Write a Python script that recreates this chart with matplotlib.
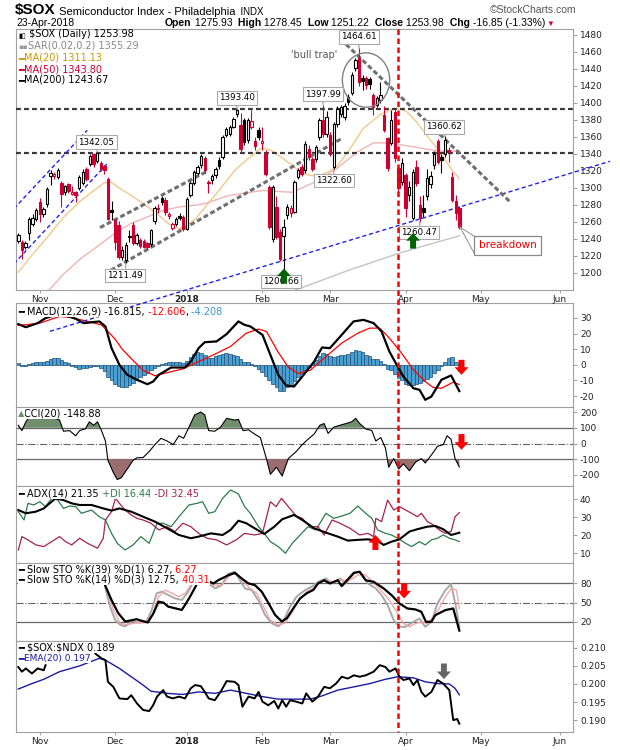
import numpy as np
import pandas as pd
import matplotlib
matplotlib.use("Agg")
import matplotlib.pyplot as plt
import matplotlib.transforms as mtrans
from matplotlib.patches import Ellipse
from matplotlib.text import Annotation

# ---------------- data (trading-day index 0 = 24-Oct-2017) ----------------
opens = [1237.5, 1236.5, 1230.6, 1247.1, 1258, 1263.9, 1283.6, 1269.8, 1280.8, 1313.8,
         1313.8, 1313, 1305.9, 1295.3, 1304.3, 1293, 1295.3, 1300.4, 1305.9, 1322.8,
         1328.7, 1339.6, 1331.8, 1329.4, 1325.5, 1311, 1273.8, 1262, 1256.1, 1218.9,
         1214.9, 1242.5, 1256.1, 1235.3, 1238.5, 1237.7, 1235.3, 1234.5, 1261.2, 1276,
         1288.7, 1286.3, 1266.7, 1253.4, 1258, 1267.1, 1266.3, 1252.2, 1291.4, 1305.9,
         1317.5, 1327, 1335.8, 1306.5, 1309.2, 1315, 1333.4, 1336.5, 1362, 1363.2,
         1371.8, 1386.7, 1373.7, 1379.6, 1356, 1371.8, 1355.3, 1368.6, 1352.6, 1340.5,
         1301, 1240.5, 1277.7, 1248.3, 1244, 1268, 1270, 1272, 1313, 1324.8,
         1321, 1346.3, 1334.6, 1334, 1360, 1379.7, 1364, 1362, 1324.8, 1375.8,
         1387.5, 1383.6, 1407, 1411.4, 1441.6, 1452.6, 1429.9, 1429, 1428.3, 1409.5,
         1397.6, 1403.6, 1386, 1358.5, 1352.6, 1389.9, 1323.2, 1307.5, 1315.4, 1291.8,
         1264.4, 1325.2, 1280, 1276, 1290, 1305, 1326.7, 1355, 1336, 1340.5,
         1345.2, 1313, 1285, 1275.93]
highs = [1247, 1239, 1238, 1266, 1269, 1277, 1288.7, 1278, 1301, 1320.8,
         1319, 1323, 1308, 1304, 1306, 1302, 1297, 1315, 1322, 1325,
         1340, 1341, 1342.05, 1332, 1327, 1313, 1285, 1264, 1261, 1232,
         1237, 1250, 1260, 1247, 1241, 1240, 1237, 1252, 1279, 1281,
         1290, 1289, 1272, 1260, 1266, 1270, 1268, 1289, 1308, 1321,
         1327, 1340, 1338, 1309, 1316, 1325, 1336, 1362, 1372, 1374,
         1384, 1393.4, 1388, 1382, 1382, 1392, 1360, 1372, 1372, 1345,
         1304, 1303, 1290, 1252, 1264, 1281, 1280, 1309, 1324, 1328,
         1355, 1350, 1337, 1350, 1382, 1397.99, 1390, 1366, 1378, 1396,
         1398, 1400, 1410, 1436, 1453, 1464.61, 1433, 1432, 1431, 1412,
         1408, 1425, 1396, 1360, 1392, 1393, 1326, 1335, 1318, 1308,
         1322, 1333, 1290, 1292, 1322, 1320, 1344, 1358, 1340, 1360.62,
         1348, 1319, 1292, 1278.45]
lows = [1235, 1216.9, 1228, 1238.5, 1255, 1261, 1260, 1266, 1278, 1303.2,
        1311, 1310, 1277.7, 1292, 1294, 1292, 1283.6, 1298, 1304, 1308,
        1326, 1325, 1329, 1320, 1317, 1262, 1262, 1226.7, 1216, 1215,
        1211.49, 1236, 1233, 1233, 1229, 1229, 1228, 1232, 1258, 1270,
        1280, 1268, 1264, 1251, 1255, 1262, 1249, 1250, 1289, 1303,
        1315, 1324, 1318, 1294, 1305, 1312, 1322, 1334, 1360, 1361,
        1370, 1384, 1342, 1350, 1353, 1369, 1345, 1356, 1345, 1314,
        1252, 1237, 1240, 1214, 1200.66, 1263, 1266, 1270, 1310, 1314,
        1318, 1333, 1320, 1330, 1357, 1360, 1360, 1338, 1322.6, 1372,
        1384, 1380, 1398, 1409, 1438, 1420, 1415, 1416, 1416, 1386,
        1395, 1400, 1366, 1320, 1350, 1330, 1290, 1304, 1266, 1285,
        1262, 1302, 1260.47, 1266, 1286, 1300, 1322, 1328, 1318, 1337,
        1330, 1284, 1262, 1251.22]
closes = [1244.3, 1226.7, 1235.7, 1263.9, 1265.1, 1274.5, 1269.1, 1275.7, 1299.2, 1317.7,
          1316.9, 1320.8, 1293.4, 1302, 1296.5, 1295.5, 1291.4, 1313, 1318.9, 1311,
          1337.3, 1327.9, 1341.2, 1322.8, 1320.8, 1263.9, 1271.4, 1236.5, 1218.9, 1227.5,
          1232.6, 1243.5, 1235.3, 1244.3, 1231.4, 1230.6, 1230, 1250.2, 1276.9, 1275.7,
          1284, 1271.8, 1269.8, 1258, 1263.9, 1265.1, 1252.2, 1287.5, 1305.9, 1318.9,
          1324.7, 1338, 1320.9, 1305.5, 1313.8, 1322.8, 1325.6, 1360.1, 1369.9, 1371.8,
          1381.6, 1391.4, 1346, 1354, 1379.6, 1378.5, 1349, 1360, 1355.3, 1317,
          1254, 1301.3, 1242.4, 1217, 1254, 1278, 1276, 1307, 1321, 1317,
          1352, 1336.5, 1322.8, 1348, 1379.7, 1364, 1383.6, 1340.5, 1375.8, 1393.4,
          1395.4, 1397, 1401, 1433, 1450.6, 1425.2, 1426, 1421.2, 1422.5, 1395.7,
          1405.6, 1409.5, 1368.3, 1323.2, 1380.1, 1335, 1299.7, 1329.1, 1276.1, 1301.6,
          1319.3, 1305.5, 1264.4, 1272.2, 1312, 1314, 1340.4, 1331, 1333, 1356.9,
          1342, 1285.5, 1270.83, 1253.98]

ma20_x = [0, 3.4, 8.1, 12.7, 17.4, 21.1, 23.9, 25.8, 28.5, 32.3, 36, 39.7, 42.5, 44.8, 47.2, 49.5,
          53, 56.7, 60.4, 64.2, 67.9, 70.7, 74.4, 78.1, 80.9, 83.7, 86.5, 89, 92.5, 96.2, 100.9,
          103.7, 105.5, 108.3, 111, 113.9, 116.7, 119, 121.4, 123]
ma20_v = [1201, 1219, 1242, 1266, 1285, 1297, 1306, 1307, 1299, 1289, 1278, 1266, 1256, 1252, 1256, 1264,
          1282, 1301, 1321, 1335, 1347, 1344, 1333, 1321, 1315, 1314, 1319, 1326, 1346, 1370, 1386,
          1392, 1394, 1390, 1378, 1362, 1347, 1333, 1319, 1311.13]
ma50_x = [8.6, 12.7, 17.4, 22, 26.7, 31.3, 36, 40.6, 45.3, 49.9, 52.3, 58.6, 67.9, 76.3, 82.8,
          88.6, 94.4, 99, 103.7, 109.3, 114.9, 118.6, 123]
ma50_v = [1180, 1199, 1217, 1231, 1246, 1258, 1266, 1274, 1278, 1280, 1282, 1291, 1297, 1295, 1307,
          1322, 1342, 1353, 1353, 1349, 1345, 1343, 1343.8]
ma200_x = [76, 85, 92, 99, 106, 114, 123]
ma200_v = [1178, 1192, 1203, 1213, 1223, 1233, 1243.67]

macd_x = [0, 2.1, 5.4, 7.6, 9.5, 13.2, 16, 18.2, 22.6, 24.3, 26, 28.2, 30.4, 33.1, 36, 37.6, 39.2,
          42.6, 46.5, 48.1, 50.3, 52, 55.3, 58.1, 61.4, 63.1, 64.7, 68.1, 70.3, 72.5, 74.7, 76.9,
          79.2, 82.5, 84.7, 86.9, 90.2, 93.5, 96.3, 99.1, 101.3, 103.5, 105.8, 107.4, 110.2,
          111.9, 113.5, 115.2, 118, 120.7, 123]
macd_v = [26.1, 24.1, 26.7, 29.9, 31.3, 31.6, 29.5, 26.7, 27.8, 24.6, 10.7, 0, -6.4, -9.6, -12.4,
          -10.7, -6.4, -1.7, -1.7, 2.1, 10.7, 14.5, 15, 19.7, 27.8, 25.6, 24.6, 19.2, 6.4, -6.4,
          -13.2, -13.9, -7.5, 2.1, 11.1, 10.7, 19.2, 27.8, 28.8, 26.7, 21.4, 8.5, -1.1, -7.5, -15,
          -16, -22.4, -20.3, -9.6, -6.8, -16.815]
sig_x = [0, 6, 11.5, 14.9, 19.3, 23.2, 27, 29, 31.5, 34.8, 38.1, 41.5, 45.9, 50.3, 54.8, 59.2,
         63.6, 67, 69.2, 72.5, 75.3, 78, 81.4, 85.8, 90.2, 94.7, 98, 100.8, 103.5, 106.9, 110.2,
         113.5, 115.7, 118, 121.3, 123]
sig_v = [25.2, 26.7, 31, 30.3, 27.8, 25.6, 16.5, 10, 4, -3.5, -7, -5, -2.6, 2.1, 6.8, 11.8,
         20.3, 22.9, 21.4, 8, -1.5, -5.5, -3.5, 5.3, 13.9, 20.3, 23.5, 23.5, 17.1, 7.5, -3.2,
         -10.7, -14.5, -15, -11.1, -12.606]
hist_v = [1.0, -0.5, -0.5, 0.5, 1.0, 1.5, 1.5, 2.0, 2.5, 3.5,
          4.5, 4.5, 3.0, 2.0, 1.0, -0.5, -1.5, -2.5, -2.0, -2.0,
          -1.5, -1.0, -1.0, -2.0, -4.0, -7.5, -10.0, -12.0, -13.5, -14.5,
          -14.5, -13.0, -11.5, -9.5, -8.0, -6.5, -5.0, -3.5, -2.0, -1.0,
          0.5, 1.0, 1.5, 1.5, 1.5, 1.5, 1.0, 2.5, 5.0, 7.0,
          8.0, 7.5, 6.0, 4.5, 4.5, 5.5, 6.0, 7.0, 7.5, 7.0,
          6.5, 5.5, 3.5, 2.0, 1.5, 0.5, -1.0, -2.5, -4.5, -7.0,
          -10.0, -12.0, -14.0, -16.5, -17.0, -14.5, -13.0, -10.5, -8.0, -6.0,
          -3.5, -1.5, 0.5, 3.0, 5.5, 7.5, 7.0, 5.5, 5.0, 5.5,
          6.0, 6.5, 7.0, 8.0, 9.5, 9.0, 8.0, 6.5, 5.5, 4.0,
          3.5, 2.5, 0.5, -2.5, -3.5, -6.0, -8.5, -10.0, -12.0, -13.0,
          -13.0, -12.5, -11.5, -10.5, -9.0, -7.5, -5.5, -3.0, -0.5, 2.0,
          4.5, 5.0, 2.0, -4.2]

cci_x = [0, 1, 2.1, 3.2, 4.9, 7.1, 9.3, 11.5, 12.6, 14.3, 16, 17.1, 18.7, 19.8, 21, 22.1, 23.2,
         24.3, 25, 26.5, 27.6, 28.7, 30.4, 32, 33.1, 34.8, 36.5, 38.1, 39.8, 41.5, 43.2, 44.8,
         46.1, 47.6, 49.2, 50.9, 52, 53.1, 54.8, 56.4, 58.1, 60.3, 61.4, 62.7, 64.2, 65.9, 67.5,
         69.2, 70.3, 72, 73.6, 75.3, 77.5, 79.2, 80.8, 82.5, 84.1, 85.3, 86.4, 88, 89.7, 91.4,
         93, 94.1, 95.2, 96.9, 98.6, 99.7, 101.1, 102.4, 103.3, 104.7, 106.1, 107.4, 109.1,
         110.8, 112.4, 113.5, 115.2, 116.9, 118.5, 119.6, 120.7, 121.8, 123]
cci_v = [116, 82, 138, 171, 160, 167, 171, 149, 78, 82, 49, 82, 93, 138, 116, 138, 82, 16, -107,
         -184, -229, -218, -162, -107, -91, -89, -51, -7, 33, 16, -7, 49, 33, 104, 182, 200, 182,
         82, 78, 104, 160, 149, 153, 82, 87, 60, 38, -96, -196, -151, -207, -96, -51, -7, 27, 60,
         116, 127, 64, 104, 116, 127, 138, 160, 127, 93, 82, 16, 38, -29, -151, -96, -162, -129,
         -173, -118, -96, -124, -73, -18, -7, 49, 27, -96, -148.88]

adx_x = [0, 2.1, 4.9, 7.1, 10.4, 12.6, 14.9, 17.1, 20.4, 23.7, 26, 28.2, 31.5, 34.8, 38.1, 41.5,
         44.8, 48.1, 50.3, 53.7, 57, 59.2, 61.4, 63.6, 65.9, 68.6, 71.4, 73.6, 76.9, 79.2, 82.5,
         85.8, 89.1, 91.9, 94.7, 97.5, 100.2, 101.9, 104.1, 106.3, 109.1, 111.3, 114.1, 116.3,
         118.5, 120.7, 123]
adx_v = [33.9, 32.1, 33, 34.8, 40.4, 39.4, 37.6, 36.7, 36.7, 34.8, 33.6, 34.8, 33, 30.2, 27.5,
         23.8, 20.1, 18.3, 19.2, 21, 20.1, 22.9, 28, 26.6, 23.8, 20.7, 24.7, 28.8, 31.2, 28.4,
         23.8, 21.4, 19.2, 17, 17.4, 17.7, 16.8, 14.6, 16.4, 17.7, 22, 23.3, 24.7, 25.1, 23.3,
         20.1, 21.35]
pdi_x = [0, 1.6, 2.7, 4.3, 6, 7.6, 9.3, 11, 12.6, 14.3, 16, 17.6, 20.4, 22.6, 24.3, 26, 27.6,
         29.8, 32, 34.2, 36.5, 38.7, 40.4, 42.6, 44.8, 47.6, 49.8, 51.4, 53.1, 54.8, 57, 59.2,
         61.4, 63.1, 64.7, 67, 68.6, 70.3, 72.5, 74.5, 76.4, 78.6, 80.8, 83, 85.8, 88, 90.2,
         92.5, 94.7, 96.9, 98.6, 100.2, 102.4, 104.1, 105.8, 108, 109.7, 111.9, 113.5, 115.2,
         116.9, 118.5, 120.2, 121.8, 123]
pdi_v = [33, 28.4, 37.6, 36.7, 38.5, 35.8, 40.4, 39.4, 34.8, 36.1, 35.8, 32.1, 33.9, 30.2, 28.4,
         21, 15.5, 11.8, 14.6, 19.2, 15.5, 26.6, 26.6, 24.7, 30.2, 36.7, 37.6, 38.5, 32.1, 33,
         40.4, 45, 42.8, 35.8, 32.1, 24.7, 21, 16.4, 13.7, 10, 15.5, 20.1, 24.7, 22.9, 32.1,
         29.3, 30.6, 32.1, 36.1, 32.1, 29.3, 22.9, 21, 20.1, 18.3, 15.5, 13.7, 16.4, 14.6, 17.4,
         18.3, 20.1, 18.3, 17.4, 16.44]
mdi_x = [0, 1, 2.7, 4.9, 7.1, 9.3, 11.5, 13.2, 14.9, 17.1, 19.3, 22.1, 23.7, 24.3, 26, 27.1,
         28.2, 29.8, 31.5, 33.1, 34.8, 37, 39.2, 41.5, 43.7, 45.9, 48.1, 50.3, 52.6, 55.3, 58.1,
         60.8, 63.1, 65.9, 68.1, 70.3, 71.9, 73.4, 75.3, 77.5, 79.2, 81.4, 83.6, 85.3, 87.5,
         89.7, 92.5, 95.2, 97.5, 99.1, 99.7, 101.3, 103, 104.7, 106.3, 108, 109.7, 111.3, 112.4,
         114.1, 115.8, 117.4, 119.1, 120.7, 121.8, 123]
mdi_v = [11.8, 19.2, 17.4, 14.6, 13.7, 16.4, 19.2, 16.4, 14.6, 18.3, 15.5, 12.8, 18.3, 28.4, 33,
         40.4, 37.6, 33.9, 31.2, 29.3, 28.4, 26.6, 22.9, 24.7, 22, 26.6, 24.7, 21, 18.3, 17.4,
         14.6, 17.4, 21, 20.1, 21, 38.5, 35.8, 40.4, 35.8, 30.6, 29.3, 24.7, 24.7, 20.1, 28.4,
         26.6, 23.8, 20.1, 21, 19.2, 29.3, 27.5, 39.4, 33.9, 35.8, 33.9, 32.1, 30.2, 32.1, 27.5,
         25.6, 22.9, 21, 22, 30.2, 32.45]

k39_x = [24.2, 26, 27.9, 29.8, 31.2, 33, 34.4, 36.1, 37.7, 39.1, 40.5, 41.8, 43.7, 45.6, 46.5,
         47.9, 49.8, 50.7, 52.5, 54.4, 55.8, 58.6, 60.4, 62.3, 64.2, 66, 67.9, 69.8, 71.6, 73.5,
         74.9, 76.7, 78.6, 80.4, 82.3, 83.6, 85.3, 86.9, 89.1, 90.2, 93.6, 95.2, 96.9, 99.1,
         101.9, 104.1, 106.3, 108.5, 110.8, 112.4, 113.7, 115.2, 116.3, 119.1, 121.3, 123]
k39_v = [77.4, 54, 33.4, 20.5, 22, 24.1, 21.6, 19, 33.4, 51.6, 50, 43.8, 41.2, 38.6, 46.4, 59.3,
         79, 90.3, 85.2, 80, 85.2, 92.9, 96.6, 87.8, 80, 77.4, 67.1, 49, 30.9, 20.5, 25.7, 41.2,
         56.7, 64.5, 70, 80, 85, 80, 85, 75.8, 96.7, 98.3, 85, 82.6, 72.2, 61.7, 48.7, 40.9,
         39.3, 35.7, 20, 20, 30.4, 38.3, 40.9, 6.27]
k14_x = [24.2, 25.6, 27, 28.4, 29.8, 31.6, 33.5, 35.8, 37.2, 38.6, 40, 41.8, 43.7, 45.6, 47.4,
         49.3, 51.1, 53, 54.9, 56.7, 58.6, 60.4, 61.8, 63.2, 65.1, 66.9, 68.8, 70.6, 72.5, 73.9,
         75.8, 77.6, 80, 81.8, 83.6, 85.8, 87.5, 89.7, 91.4, 93.6, 95.2, 97.5, 99.7, 101.3, 103,
         104.7, 106.3, 108, 110.2, 111.9, 113.5, 115.2, 116.9, 119.1, 120.7, 122, 123]
k14_v = [75, 43.8, 23, 15.3, 12.8, 20.5, 19, 20.5, 38.6, 64.5, 67.1, 62, 56.7, 54.1, 67.1, 87.8,
         92.9, 80, 72.2, 77.4, 95.5, 98.1, 85.2, 72.2, 69.7, 54.1, 30.9, 17.9, 12.8, 20.5, 43.8,
         59.3, 69.7, 74.8, 82.6, 87.8, 80, 87.8, 80, 95.7, 98.3, 80, 72.2, 61.7, 46.1, 22.6,
         12.2, 12.2, 20, 25.2, 12.2, 20, 48.7, 69.6, 79, 45, 12.75]
d3_x = [24.7, 26.5, 28.4, 30.2, 32.5, 35.3, 37.2, 39.1, 41, 42.9, 44.7, 46.5, 48.4, 50.2, 52.5,
        54.4, 56.7, 59.1, 60.9, 62.8, 64.6, 66.5, 68.4, 70.2, 72.5, 74.4, 76.2, 78.1, 80.4, 82.3,
        83.6, 85.8, 88, 90.2, 92.5, 94.7, 96.3, 98, 100.2, 101.9, 103.5, 105.8, 107.4, 109.1,
        110.8, 112.4, 114.1, 115.7, 117.4, 119.1, 120.7, 122.2, 123]
d3_v = [72, 38.6, 18, 15.3, 18, 19, 28, 59.3, 69.7, 64.5, 59.3, 64.5, 80, 90.3, 87.8, 77.4, 77.4,
        92.9, 95.5, 82.6, 72.2, 64.5, 43.8, 23, 15.3, 18, 33.4, 51.6, 67.1, 72.2, 80, 85.2, 82.6,
        85.2, 85.2, 93, 94.6, 87.8, 74.8, 64.3, 53.9, 33, 17.4, 12.2, 17.4, 20, 17.4, 27.8, 40.9,
        59.1, 72.2, 69.6, 40.31]

ratio_x = [0, 1, 2.1, 3.8, 5.4, 7.1, 7.6, np.nan, 21.5, 23.2, 24.3, 25, 26.5, 28.2, 30.4, 31.5,
           33.1, 34.8, 36.5, 37.6, 38.7, 40.4, 41.5, 43.1, 44.8, 46.5, 48.1, 49.3, 50.9, 52, 53.1,
           54.8, 56.4, 58.1, 60.3, 61.4, 62.5, 64.2, 65.9, 67, 68.1, 69.7, 71.4, 72.5, 73.6, 74.7,
           75.8, 77.5, 79.2, 80.3, 82, 83.6, 85.3, 86.9, 88.6, 90.2, 91.9, 93.6, 95.2, 96.9, 99.1,
           100.8, 102.4, 103.5, 105.2, 106.3, 107.4, 109.1, 110.2, 111.3, 112.4, 113.5, 115.2,
           116.9, 118.5, 120.2, 121.3, 122.4, 123]
ratio_v = [0.2047, 0.2034, 0.2043, 0.2029, 0.2043, 0.2038, 0.2052, np.nan, 0.2084, 0.2071,
           0.2066, 0.2006, 0.1992, 0.196, 0.1958, 0.1969, 0.1946, 0.1928, 0.1925, 0.1941,
           0.1965, 0.1983, 0.1965, 0.196, 0.1965, 0.196, 0.1988, 0.1997, 0.1994, 0.1978,
           0.196, 0.1955, 0.1978, 0.2008, 0.2006, 0.1997, 0.1937, 0.1965, 0.196, 0.1978,
           0.1951, 0.1941, 0.1953, 0.1932, 0.1955, 0.1937, 0.1955, 0.1951, 0.1946, 0.1974,
           0.1951, 0.1965, 0.1992, 0.1988, 0.2001, 0.202, 0.2015, 0.2024, 0.202, 0.2024,
           0.2034, 0.2052, 0.2047, 0.2034, 0.2043, 0.202, 0.2011, 0.2015, 0.1997, 0.2011,
           0.1978, 0.1965, 0.1978, 0.2011, 0.2001, 0.1983, 0.19, 0.1903, 0.189]
ema_x = [0, 3.8, 7.1, 11.5, 17.1, 22.6, 24.3, 28.2, 31.5, 34.8, 37, 41.5, 45.9, 50.3, 54.8, 59.2,
         63.6, 68.1, 72.5, 76.9, 81.4, 84.7, 89.1, 93.6, 98, 102.4, 105.8, 110.2, 113.5, 116.9,
         120.2, 121.8, 123]
ema_v = [0.1986, 0.2001, 0.2013, 0.2034, 0.205, 0.2071, 0.2066, 0.2043, 0.202, 0.1997, 0.198,
         0.1974, 0.1971, 0.1978, 0.1974, 0.1983, 0.1974, 0.1965, 0.1958, 0.1958, 0.1958, 0.1967,
         0.1983, 0.1992, 0.2001, 0.2013, 0.202, 0.2017, 0.2006, 0.2001, 0.2, 0.1988, 0.197]

# annotations (data coordinates: trading-day index, value)
h_levels = [1392.5, 1341]
blue_lines = [[(-1.2, 1275.8), (19.2, 1367.9)], [(-1.2, 1211), (24.8, 1328.7)]]
blue_long = [(8.84, 1131.4), (165, 1331.4)]
gray_lines = [[(22.8, 1253.4), (52.3, 1318.8)], [(25.8, 1203.2), (90.2, 1358.1)],
              [(91.4, 1469), (137.2, 1283.5)]]
price_labels = [("1342.05", (22, 1342.05), (21.8, 1354)), ("1211.49", (30, 1211.49), (29.8, 1197.3)),
                ("1393.40", (61, 1393.4), (61, 1406)), ("1397.99", (85, 1397.99), (84.9, 1410.5)),
                ("1322.60", (88, 1322.6), (88, 1308.7)), ("1464.61", (95, 1464.61), (95, 1477.6)),
                ("1360.62", (119, 1360.62), (118.7, 1371.8)), ("1260.47", (112, 1260.47), (111.8, 1247.5)),
                ("1200.66", (74, 1200.66), (73.3, 1190))]
red_vline = 106
circle = (96.98, 1427, 13.2, 64)

# ---------------- figure ----------------
plt.rcParams['font.family'] = ['DejaVu Sans']
plt.rcParams['axes.unicode_minus'] = False
W, H = 620, 750
fig = plt.figure(figsize=(6.2, 7.5), dpi=100)
RED = '#cc0033'
GRID = '#a0a0a0'


def rect(top, bottom, left=16, right=573):
    return [left / W, 1 - bottom / H, (right - left) / W, (bottom - top) / H]


ax_p = fig.add_axes(rect(29, 290))
ax_m = fig.add_axes(rect(303, 407))
ax_c = fig.add_axes(rect(407, 486))
ax_a = fig.add_axes(rect(486, 563))
ax_s = fig.add_axes(rect(563, 641))
ax_r = fig.add_axes(rect(641, 732))
ax_p.set_zorder(3)
axes = [ax_p, ax_m, ax_c, ax_a, ax_s, ax_r]

holidays = pd.to_datetime(['2017-11-23', '2017-12-25', '2018-01-01', '2018-01-15',
                           '2018-02-19', '2018-03-30', '2018-05-28'])
days = pd.bdate_range('2017-10-24', '2018-06-15')
days = days[~days.isin(holidays)]
starts = [i for i in range(1, len(days)) if days[i].month != days[i - 1].month]
mlabels = [str(days[i].year) if days[i].month == 1 else days[i].strftime('%b') for i in starts]

for ax in axes:
    ax.set_xlim(-0.64, 154.7)
    for s in ax.spines.values():
        s.set_color(GRID)
        s.set_linewidth(0.8)
    ax.yaxis.tick_right()
    ax.tick_params(axis='y', labelsize=6.5, length=3, color=GRID, pad=2, labelcolor='#222222')
    ax.set_xticks(starts)
    ax.tick_params(axis='x', length=2, color=GRID, labelbottom=False, labelsize=6.5,
                   pad=1.5, labelcolor='#222222')
for ax in (ax_p, ax_r):
    ax.tick_params(axis='x', labelbottom=True)
    ax.set_xticklabels(mlabels)
    for t in ax.get_xticklabels():
        if t.get_text() == '2018':
            t.set_fontweight('bold')

# ---- price panel ----
o, hi, lo, c = map(np.array, (opens, highs, lows, closes))
n = len(c)
x = np.arange(n)
prev = np.r_[o[0], c[:-1]]
col = np.where(c >= prev, 'black', RED)
face = np.where(c >= o, 'white', col)
ax_p.vlines(x, lo, hi, colors=col, lw=0.8, zorder=4)
ax_p.bar(x, np.maximum(np.abs(c - o), 0.8), bottom=np.minimum(o, c), width=0.68,
         color=face, edgecolor=col, linewidth=0.8, zorder=5)
ax_p.plot(ma20_x, ma20_v, color='#f2c98a', lw=1.0, zorder=2)
ax_p.plot(ma50_x, ma50_v, color='#f2b4b4', lw=1.0, zorder=2)
ax_p.plot(ma200_x, ma200_v, color='#c4c4c4', lw=1.0, zorder=2)
for lvl in h_levels:
    ax_p.axhline(lvl, color='#3a3a3a', lw=1.6, ls=(0, (2.2, 1.4)), zorder=3)
for seg in blue_lines:
    ax_p.plot(*zip(*seg), color='#2222ee', lw=1.0, ls=(0, (3, 2)), zorder=3)
ax_p.plot(*zip(*blue_long), color='#2222ee', lw=1.0, ls=(0, (3, 2)), zorder=3, clip_on=False)
for seg in gray_lines:
    ax_p.plot(*zip(*seg), color='#707070', lw=2.2, ls=(0, (1.6, 0.9)), zorder=3)
ax_p.add_patch(Ellipse(circle[:2], circle[2], circle[3], fill=False, ec='#808080', lw=1.0, zorder=6))
ax_p.set_ylim(1180, 1487)
ax_p.set_yticks(np.arange(1200, 1481, 20))

for txt, pt, tp in price_labels:
    ax_p.annotate(txt, xy=pt, xytext=tp, ha='center', va='center', fontsize=6.3, zorder=7,
                  bbox=dict(boxstyle='square,pad=0.25', fc='white', ec='#aaaaaa', lw=0.8),
                  arrowprops=dict(arrowstyle='-', color='#999999', lw=0.8, shrinkA=0, shrinkB=0))
ax_p.text(82.5, 1456, "'bull trap'", fontsize=7, color='#555555', ha='center', va='center', zorder=7)
ax_p.text(136.5, 1232.6, "breakdown", fontsize=7.5, color='#ee0000', ha='center', va='center', zorder=7,
          bbox=dict(boxstyle='square,pad=0.45', fc='white', ec='#888888', lw=0.9))
for yy in (1243, 1222):
    ax_p.plot([123.2, 127.3], [1254, yy], color='#999999', lw=0.8, zorder=6)


def block_arrow(ax, xx, y_tail, y_tip, color):
    ax.annotate('', xy=(xx, y_tip), xytext=(xx, y_tail), annotation_clip=False, zorder=8,
                arrowprops=dict(width=4.3, headwidth=10, headlength=5.5, fc=color, ec=color, lw=0))


block_arrow(ax_p, 74.1, 1187.4, 1205.3, '#006400')
block_arrow(ax_p, 110.1, 1228.7, 1247, '#006400')

vtrans = mtrans.blended_transform_factory(ax_p.transData, fig.transFigure)
ax_p.plot([red_vline, red_vline], [ax_p.get_position().y1, ax_r.get_position().y0], transform=vtrans,
          color='#ff0000', lw=1.8, ls=(0, (2.2, 1.4)), clip_on=False, zorder=9)

# ---- MACD ----
ax_m.bar(x, hist_v, width=1.0, color='#4aa0d0', edgecolor='#1d4f78', linewidth=0.5, zorder=2)
ax_m.plot(sig_x, sig_v, color='#ff0000', lw=0.9, zorder=3)
ax_m.plot(macd_x, macd_v, color='black', lw=1.6, zorder=4)
ax_m.set_ylim(-27, 39.6)
ax_m.set_yticks([-20, -10, 0, 10, 20, 30])
block_arrow(ax_m, 123.6, 3.2, -6.4, '#ff0000')

# ---- CCI ----
cx, cv = np.array(cci_x), np.array(cci_v)
ax_c.fill_between(cx, cv, 100, where=cv >= 100, interpolate=True, color='#6f8f6f', lw=0, zorder=2)
ax_c.fill_between(cx, cv, -100, where=cv <= -100, interpolate=True, color='#9a6e6e', lw=0, zorder=2)
ax_c.axhline(100, color='#666666', lw=0.9, zorder=1)
ax_c.axhline(-100, color='#666666', lw=0.9, zorder=1)
ax_c.axhline(0, color='#666666', lw=0.8, ls='-.', zorder=1)
ax_c.plot(cx, cv, color='black', lw=0.8, zorder=3)
ax_c.set_ylim(-270, 232)
ax_c.set_yticks([-200, -100, 0, 100, 200])
block_arrow(ax_c, 123.6, 60, -40, '#ff0000')

# ---- ADX ----
ax_a.plot(pdi_x, pdi_v, color='#2d7a4a', lw=0.9, zorder=2)
ax_a.plot(mdi_x, mdi_v, color='#a3224f', lw=0.9, zorder=2)
ax_a.plot(adx_x, adx_v, color='black', lw=1.5, zorder=3)
ax_a.set_ylim(4.6, 47.2)
ax_a.set_yticks([10, 20, 30, 40])
block_arrow(ax_a, 99.6, 11.8, 20.1, '#ff0000')

# ---- Slow STO ----
ax_s.axhline(80, color='#666666', lw=0.9, zorder=1)
ax_s.axhline(20, color='#666666', lw=0.9, zorder=1)
ax_s.axhline(50, color='#666666', lw=0.8, ls='-.', zorder=1)
ax_s.plot(k14_x, k14_v, color='#a8a8a8', lw=1.4, zorder=2)
ax_s.plot(d3_x, d3_v, color='#f4a0a0', lw=0.9, zorder=3)
ax_s.plot(k39_x, k39_v, color='black', lw=1.6, zorder=4)
ax_s.set_ylim(-10, 112)
ax_s.set_yticks([20, 50, 80])
block_arrow(ax_s, 107.6, 80, 56.5, '#ff0000')

# ---- ratio ----
ax_r.plot(ema_x, ema_v, color='#1a1aa0', lw=1.0, zorder=2)
ax_r.plot(np.array(ratio_x, float), np.array(ratio_v, float), color='black', lw=1.4, zorder=3)
ax_r.set_ylim(0.1867, 0.2119)
ax_r.set_yticks([0.190, 0.195, 0.200, 0.205, 0.210])
ax_r.yaxis.set_major_formatter(matplotlib.ticker.FormatStrFormatter('%.3f'))
block_arrow(ax_r, 118.7, 0.20567, 0.20134, '#666666')


# ---------------- texts ----------------
def chain(parts, x_px, y_px, size, bbox=True, family=None, zorder=20):
    prev_t = None
    for part in parts:
        s, color = part[0], part[1]
        weight = part[2] if len(part) > 2 else 'normal'
        psize = part[3] if len(part) > 3 else size
        kw = dict(color=color, fontsize=psize, fontweight=weight, zorder=zorder, parse_math=False)
        if family:
            kw['family'] = family
        if bbox:
            kw['bbox'] = dict(fc='white', ec='none', pad=0.3)
        if prev_t is None:
            t = fig.text(x_px / W, 1 - y_px / H, s, va='center', ha='left', **kw)
        else:
            t = Annotation(s, xy=(1, 0), xycoords=prev_t, xytext=(0, 0), textcoords='offset points',
                           va='bottom', ha='left', **kw)
            fig.add_artist(t)
        prev_t = t


LIB = ['Liberation Sans', 'DejaVu Sans']
chain([("$SOX", 'black', 'bold', 11), (" Semiconductor Index - Philadelphia", 'black', 'normal', 8),
       ("  INDX", 'black', 'normal', 7)], 15, 10, 8, bbox=False, family=LIB)
fig.text(576 / W, 1 - 10 / H, "\u00a9StockCharts.com", ha='right', va='center', fontsize=7.5,
         color='#555555', family=LIB)
fig.text(16 / W, 1 - 23 / H, "23-Apr-2018", ha='left', va='center', fontsize=7.5, family=LIB)
chain([("Open", 'black', 'bold'), (" 1275.93 ", 'black'), (" High", 'black', 'bold'), (" 1278.45 ", 'black'),
       (" Low", 'black', 'bold'), (" 1251.22 ", 'black'), (" Close", 'black', 'bold'),
       (" 1253.98 ", 'black'), (" Chg", 'black', 'bold'), (" -16.85 (-1.33%)", 'black'),
       (" \u25bc", '#cc0033', 'normal', 5.5)], 165, 23, 7.5, bbox=False, family=LIB)

LG = 7
chain([("\u25ae\u25af", 'black', 'normal', 5), (" $SOX (Daily) 1253.98", 'black')], 18, 36, LG, bbox=False)
chain([("\u25aa\u25aa", '#999999', 'normal', 5), ("SAR(0.02,0.2) 1355.29", '#888888')], 18, 47, LG, bbox=False)
chain([("\u2501", '#cc9900'), ("MA(20) 1311.13", '#cc9900')], 18, 58, LG, bbox=False)
chain([("\u2501", RED), ("MA(50) 1343.80", RED)], 18, 69, LG, bbox=False)
chain([("\u2501", 'black'), ("MA(200) 1243.67", 'black')], 18, 80, LG, bbox=False)

chain([("\u2501 MACD(12,26,9) -16.815,", 'black'), (" -12.606", '#ff0000'), (",", 'black'),
       (" -4.208", '#3399cc')], 18, 312, LG)
chain([("\u25b2", '#6f8f6f', 'normal', 6), ("CCI(20) -148.88", 'black')], 18, 414, LG)
chain([("\u2501 ADX(14) 21.35", 'black'), (" +DI 16.44", '#2d7a4a'), (" -DI 32.45", '#a3224f')], 18, 494, LG)
chain([("\u2501 Slow STO %K(39) %D(1) 6.27,", 'black'), (" 6.27", '#ff0000')], 18, 570, LG)
chain([("\u2501 Slow STO %K(14) %D(3) 12.75,", 'black'), (" 40.31", '#ff0000')], 18, 580, LG)
chain([("\u2501 $SOX:$NDX 0.189", 'black')], 18, 648, LG)
chain([("\u2501", '#1a1aa0'), ("EMA(20) 0.197", '#1a1aa0', 'normal', 6.5)], 18, 658, LG)

fig.savefig('out.png', dpi=100)
